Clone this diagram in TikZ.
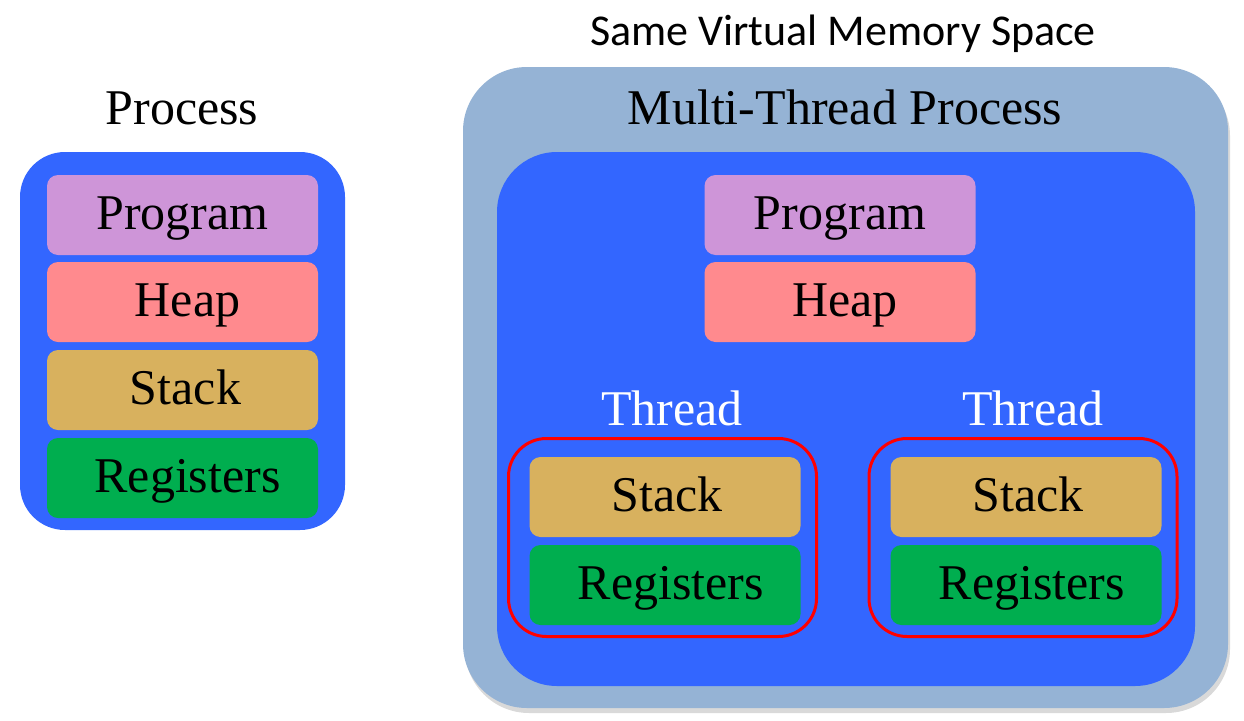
\documentclass[tikz,border=0pt]{standalone}
\usepackage{fontspec}
\setmainfont{Liberation Serif}
\newfontfamily\titlefont{Carlito}
\usetikzlibrary{shadows}
\definecolor{procblue}{HTML}{3366FF}
\definecolor{vmblue}{HTML}{95B3D5}
\definecolor{progcol}{HTML}{CE95D8}
\definecolor{heapcol}{HTML}{FF8A8E}
\definecolor{stackcol}{HTML}{D8B15E}
\definecolor{regcol}{HTML}{00AE4F}
\begin{document}
\begin{tikzpicture}[x=1pt,y=-1pt,
    big/.style={font=\fontsize{50}{60}\selectfont},
    seg/.style={big,rounded corners=11pt,minimum width=271pt,minimum height=80pt,inner sep=0pt,
      text height=33pt,text depth=4pt},
    frame/.style={rounded corners=#1,inner sep=0pt}]
  \useasboundingbox (0,0) rectangle (1244,720);
  \draw
    (182,108) node[big] (ptitle){Process}
    (843,34) node[font=\titlefont\fontsize{44}{50}\selectfont] (vmtitle){Same Virtual Memory Space};
  \node[frame=64pt,fill=vmblue,minimum width=765pt,minimum height=641pt,
        drop shadow={shadow xshift=2pt,shadow yshift=-5pt,opacity=.3}] (vm) at (845.5,387.5) {};
  \node[big] (mtitle) at (845,107) {Multi-Thread Process};
  \node[frame=45pt,fill=procblue,minimum width=325pt,minimum height=378pt] (proc) at (182.5,341) {};
  \node[frame=60pt,fill=procblue,minimum width=698pt,minimum height=534pt] (mproc) at (846,419) {};
  \draw
    (182.5,215) node[seg,fill=progcol] (0){Program}
    (182.5,302) node[seg,fill=heapcol] (1){\hspace{10pt}Heap}
    (182.5,390) node[seg,fill=stackcol] (2){\hspace{6pt}Stack}
    (182.5,478) node[seg,fill=regcol] (3){\hspace{10pt}Registers}
    (840,215) node[seg,fill=progcol] (4){Program}
    (840,302) node[seg,fill=heapcol] (5){\hspace{10pt}Heap};
  \begin{scope}[every node/.style={big,text=white}]
    \node (t1) at (672,408) {Thread};
    \node (t2) at (1033,408) {Thread};
  \end{scope}
  \begin{scope}[every node/.style={frame=38pt,draw=red,line width=3pt,minimum width=308pt,minimum height=198pt}]
    \node (th1) at (662.5,537.5) {};
    \node (th2) at (1023,537.5) {};
  \end{scope}
  \draw
    (665,497) node[seg,fill=stackcol] (6){\hspace{4pt}Stack}
    (665,585) node[seg,fill=regcol] (7){\hspace{12pt}Registers}
    (1026,497) node[seg,fill=stackcol] (8){\hspace{4pt}Stack}
    (1026,585) node[seg,fill=regcol] (9){\hspace{12pt}Registers};
\end{tikzpicture}
\end{document}
